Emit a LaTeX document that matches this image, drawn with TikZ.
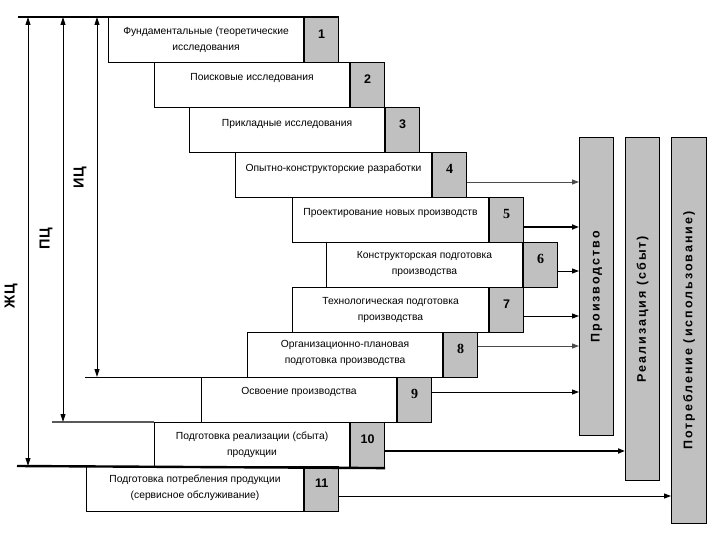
\documentclass[tikz,border=0pt]{standalone}
\usepackage{fontspec}
\setmainfont{Liberation Sans}
\newfontfamily\numserif{Liberation Serif}
\newfontfamily\spacedfont[LetterSpace=16]{Liberation Sans}
\newfontfamily\cycfont[LetterSpace=6]{Liberation Sans}
\usetikzlibrary{arrows.meta,calc}
\definecolor{boxgray}{HTML}{C0C0C0}
\tikzset{
  wbox/.style={draw=black, line width=1.1pt, fill=white, minimum height=45pt, inner sep=0pt, anchor=north west},
  gbox/.style={draw=black, line width=1.1pt, fill=boxgray, minimum width=34pt, minimum height=45pt, inner sep=0pt, anchor=north west},
  txt/.style={font=\fontsize{10.3}{16.5}\selectfont, align=center, inner sep=0pt},
  numsans/.style={font=\fontsize{12.5}{14}\selectfont\bfseries, inner sep=0pt},
  numser/.style={font=\fontsize{14}{14}\numserif\bfseries, inner sep=0pt},
  bar/.style={draw=black, line width=1.3pt, fill=boxgray, inner sep=0pt, anchor=north west},
  barlabel/.style={rotate=90, font=\fontsize{12.5}{13}\spacedfont\bfseries, inner sep=0pt},
  cyc/.style={rotate=90, font=\fontsize{14.5}{15}\cycfont\bfseries, inner sep=0pt},
  arr/.style={-{Triangle[length=7pt,width=5pt]}, line width=1pt},
  varr/.style={{Triangle[length=8pt,width=5pt]}-{Triangle[length=8pt,width=5pt]}, line width=0.9pt},
}
\newcommand\stg[8]{%
  \node[wbox, minimum width=#4pt] (#1) at (#2,#3) {};
  \node[gbox] (#1n) at (#1.north east) {};
  \node[txt] (#1t) at ($(#1.north)+(0,#7)$) {#5};
  \node[#8] (#1x) at ($(#1n.north)+(0,17)$) {#6};
}
\begin{document}
\begin{tikzpicture}[x=1pt,y=-1pt]
\useasboundingbox (0,0) rectangle (720,540);
% bars
\node[bar, minimum width=34pt, minimum height=298pt] (P) at (579,137) {};
\node[bar, minimum width=34pt, minimum height=343pt] (R) at (625,137) {};
\node[bar, minimum width=35pt, minimum height=386pt] (C) at (671,137) {};
\node[barlabel] (Pl) at (P.center) {Производство};
\node[barlabel] (Rl) at (R.center) {Реализация (сбыт)};
\node[barlabel] (Cl) at (C.center) {Потребление (использование)};
% stages
\stg{b1}{108}{17}{195}{Фундаментальные (теоретические\\исследования}{1}{23}{numsans}
\stg{b2}{154}{62}{195}{Поисковые исследования}{2}{16}{numsans}
\stg{b3}{189}{107}{195}{Прикладные исследования}{3}{17}{numsans}
\stg{b4}{235}{152}{196}{Опытно-конструкторские разработки}{4}{17}{numser}
\stg{b5}{292}{197}{196}{Проектирование новых производств}{5}{16}{numser}
\stg{b6}{326}{242}{196}{Конструкторская подготовка\\производства}{6}{22}{numser}
\stg{b7}{292}{287}{196}{Технологическая подготовка\\производства}{7}{23}{numsans}
\stg{b8}{247}{332}{195}{Организационно-плановая\\подготовка производства}{8}{21}{numser}
\stg{b9}{201}{377}{195}{Освоение производства}{9}{15}{numser}
\stg{b10}{154}{422}{195}{Подготовка реализации (сбыта)\\продукции}{10}{23}{numsans}
\stg{b11}{86}{466}{217}{Подготовка потребления продукции\\(сервисное обслуживание)}{11}{22}{numsans}
% horizontal reference lines
\coordinate (tl) at (18,17);
\coordinate (l376) at (85,377);
\coordinate (l422) at (52,422);
\coordinate (l466) at (17,466);
\draw[line width=2.4pt] (tl) -- (b1.north east -| b1n.north east);
\draw[line width=0.9pt] (l376) -- (b9.north west);
\draw[line width=1.4pt, gray!70!black] (l422) -- (b10.north west);
\draw[line width=2.4pt] (l466) -- (b10n.south east);
% cycle arrows
\coordinate (zt) at (28,17); \coordinate (zb) at (28,466);
\coordinate (pt) at (63,17); \coordinate (pb) at (63,422);
\coordinate (it) at (97,17); \coordinate (ib) at (97,377);
\draw[varr] (zt) -- (zb);
\draw[varr] (pt) -- (pb);
\draw[varr] (it) -- (ib);
\node[cyc] (zh) at (11,296) {ЖЦ};
\node[cyc] (ph) at (46,239) {ПЦ};
\node[cyc] (ih) at (80,178) {ИЦ};
% flows
\draw[arr, line width=0.9pt, gray!60!black] (b4n.east |- 0,182) -- (P.west |- 0,182);
\draw[arr, line width=1.6pt] (b5n.east |- 0,227) -- (P.west |- 0,227);
\draw[arr] (b6n.east |- 0,271) -- (P.west |- 0,271);
\draw[arr] (b7n.east |- 0,316) -- (P.west |- 0,316);
\draw[arr, gray!60!black] (b8n.east |- 0,346) -- (P.west |- 0,346);
\draw[arr] (b9n.east |- 0,392) -- (P.west |- 0,392);
\draw[arr, line width=1.6pt] (b10n.east |- 0,451) -- (R.west |- 0,451);
\draw[arr] (b11n.east |- 0,496) -- (C.west |- 0,496);
\end{tikzpicture}
\end{document}
